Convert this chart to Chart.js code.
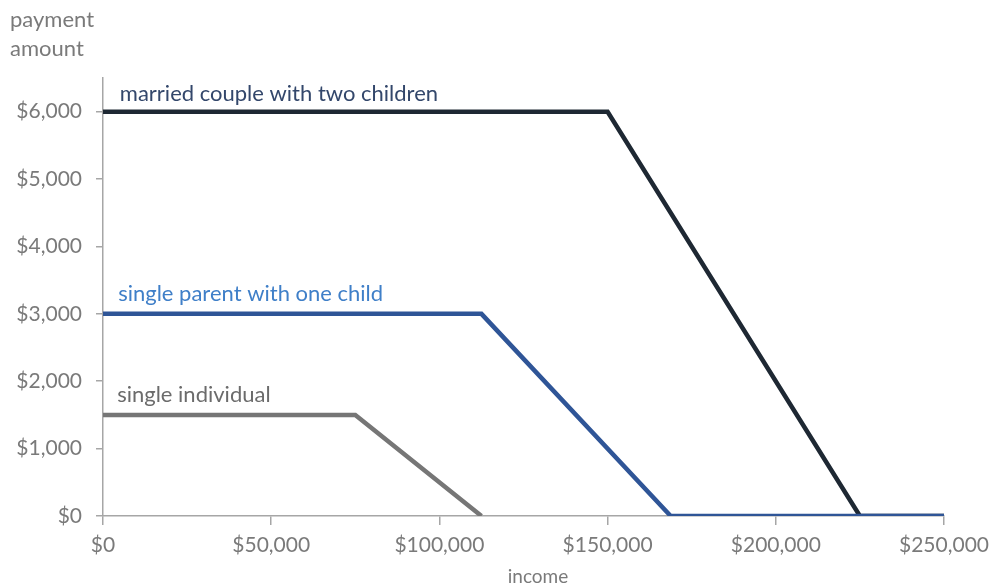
<!DOCTYPE html>
<html>
<head>
<meta charset="utf-8">
<script src="https://cdn.jsdelivr.net/npm/chart.js@4"></script>
<style>
  html, body { margin: 0; padding: 0; background: #fff; }
  #wrap { width: 994px; height: 583px; position: relative; }
</style>
</head>
<body>
<div id="wrap"><canvas id="chart"></canvas></div>
<script>
// data
const seriesNames = ["married couple with two children", "single parent with one child", "single individual"];
const marriedIncome = [0, 150000, 225000, 250000];
const marriedPay = [6000, 6000, 0, 0];
const parentIncome = [0, 112500, 168750, 250000];
const parentPay = [3000, 3000, 0, 0];
const singleIncome = [0, 75000, 112500];
const singlePay = [1500, 1500, 0];
const xTicks = [0, 50000, 100000, 150000, 200000, 250000];
const yTicks = [0, 1000, 2000, 3000, 4000, 5000, 6000];
const yAxisTitle = ["payment", "amount"];
const xAxisTitle = "income";

const FONT = "Lato, 'Open Sans', sans-serif";
const colors = ["#1e2833", "#2f5597", "#767676"];
const labelColors = ["#33476b", "#3f7fc8", "#6b6b6b"];

const toPts = (xs, ys) => xs.map((x, i) => ({ x: x, y: ys[i] }));
const money = v => "$" + v.toLocaleString("en-US");

// series labels + axis titles
const textPlugin = {
  id: "texts",
  afterDraw(chart) {
    const ctx = chart.ctx;
    const xs = chart.scales.x, ys = chart.scales.y;
    ctx.save();
    ctx.textBaseline = "alphabetic";
    ctx.textAlign = "left";
    ctx.font = "22px " + FONT;
    const anchors = [[5000, 6000, 11], [4500, 3000, 13], [4200, 1500, 13]];
    seriesNames.forEach((name, i) => {
      ctx.fillStyle = labelColors[i];
      const a = anchors[i];
      ctx.fillText(name, xs.getPixelForValue(a[0]), ys.getPixelForValue(a[1]) - a[2]);
    });
    ctx.fillStyle = "#7a7a7a";
    ctx.font = "22px " + FONT;
    ctx.fillText(yAxisTitle[0], 10, 27);
    ctx.fillText(yAxisTitle[1], 10, 56);
    ctx.font = "19px " + FONT;
    ctx.textAlign = "center";
    ctx.fillText(xAxisTitle, 538, 583);
    ctx.restore();
  }
};

const ds = (label, data, i) => ({
  label: label, data: data, borderColor: colors[i], borderWidth: 4.5,
  pointRadius: 0, fill: false, tension: 0, order: i === 0 ? 3 : (i === 1 ? 1 : 2)
});

new Chart(document.getElementById("chart"), {
  type: "line",
  data: {
    datasets: [
      ds(seriesNames[0], toPts(marriedIncome, marriedPay), 0),
      ds(seriesNames[1], toPts(parentIncome, parentPay), 1),
      ds(seriesNames[2], toPts(singleIncome, singlePay), 2)
    ]
  },
  options: {
    responsive: true,
    maintainAspectRatio: false,
    animation: false,
    layout: { padding: { top: 78, right: 50, left: 0, bottom: 0 } },
    plugins: { legend: { display: false }, tooltip: { enabled: false } },
    scales: {
      x: {
        type: "linear", min: 0, max: 250000,
        afterBuildTicks: s => { s.ticks = xTicks.map(v => ({ value: v })); },
        afterFit: s => { s.height = 67; s.paddingLeft = 0; s.paddingRight = 0; },
        border: { color: "#a6a6a6", width: 1.5 },
        grid: { drawOnChartArea: false, color: "#a6a6a6", tickLength: 9, lineWidth: 1.5 },
        ticks: { color: "#7a7a7a", font: { family: FONT, size: 21 }, padding: 8, callback: v => money(v), maxRotation: 0 }
      },
      y: {
        type: "linear", min: 0, max: 6500,
        afterBuildTicks: s => { s.ticks = yTicks.map(v => ({ value: v })); },
        afterFit: s => { s.width = 103; },
        border: { color: "#a6a6a6", width: 1.5 },
        grid: { drawOnChartArea: false, color: "#a6a6a6", tickLength: 7, lineWidth: 1.5 },
        ticks: { color: "#7a7a7a", font: { family: FONT, size: 21 }, padding: 14, callback: v => money(v) }
      }
    }
  },
  plugins: [textPlugin]
});
</script>
</body>
</html>
